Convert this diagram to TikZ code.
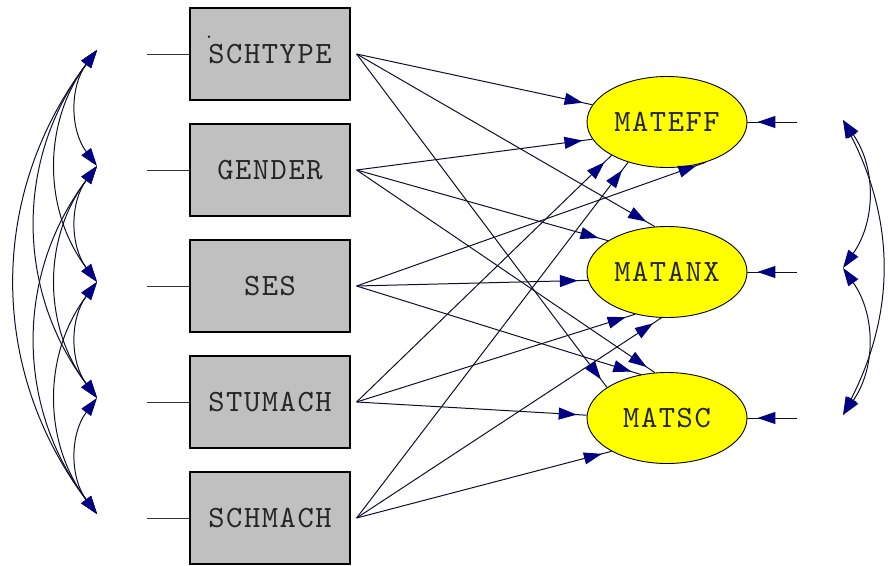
\documentclass[tikz,border=0pt]{standalone}
\usepackage{fontspec}
\usepackage{tikz}
\usetikzlibrary{arrows.meta, shapes.geometric, decorations.markings}

\definecolor{boxgray}{RGB}{192,192,192}
\definecolor{latyellow}{RGB}{255,255,0}
\definecolor{headblue}{RGB}{0,0,128}
\definecolor{linedark}{RGB}{15,15,45}

\newfontfamily\lismono[LetterSpace=5]{lmmono10-regular.otf}
\newcommand{\lisfont}{\lismono\fontsize{31}{34}\selectfont}

\tikzset{headtip/.tip={Triangle[length=18pt, width=12pt, color=headblue]}}

\begin{document}
\begin{tikzpicture}[
  x=1pt, y=-1pt,
  obs/.style={rectangle, draw=black, line width=1.2pt, fill=boxgray,
              minimum width=160pt, minimum height=92pt, font=\lisfont, text=black!85},
  lat/.style={ellipse, draw=black, line width=0.9pt, fill=latyellow, inner sep=0pt,
              minimum width=160pt, minimum height=91pt, font=\lisfont, text=black!85},
  effect/.style={draw=linedark, line width=1pt, postaction={decorate},
                 decoration={markings, mark=at position -10pt with {\arrow{headtip}}}},
  corr/.style={draw=linedark, line width=1pt, headtip-headtip},
  stub/.style={draw=black!80, line width=1pt}
]
\useasboundingbox (0,0) rectangle (888,565);

% Observed variables
\node[obs] (schtype) at (270,54) {SCHTYPE};
\node[obs] (gender)  at (270,170) {GENDER};
\node[obs] (ses)     at (270,286) {SES};
\node[obs] (stumach) at (270,402) {STUMACH};
\node[obs] (schmach) at (270,518) {SCHMACH};
\node[font=\lismono\fontsize{20}{20}\selectfont, text=black!85, inner sep=0pt, anchor=base] (dot) at (209,38) {.};

% Latent variables
\node[lat] (mateff) at (667,122) {MATEFF};
\node[lat] (matanx) at (667,272) {MATANX};
\node[lat] (matsc)  at (667,418) {MATSC};

% Stubs on the left
\coordinate (d1) at (147,54);
\coordinate (d2) at (147,170);
\coordinate (d3) at (147,286);
\coordinate (d4) at (147,402);
\coordinate (d5) at (147,518);
\draw[stub] (d1) -- (schtype.west);
\draw[stub] (d2) -- (gender.west);
\draw[stub] (d3) -- (ses.west);
\draw[stub] (d4) -- (stumach.west);
\draw[stub] (d5) -- (schmach.west);

% Correlations among observed variables
\coordinate (l1) at (97,50);
\coordinate (l2) at (97,166);
\coordinate (l3) at (97,282);
\coordinate (l4) at (97,398);
\coordinate (l5) at (97,514);
\draw[corr] (l1) to[bend right=37] (l2);
\draw[corr] (l1) to[bend right=37] (l3);
\draw[corr] (l1) to[bend right=37] (l4);
\draw[corr] (l1) to[bend right=37] (l5);
\draw[corr] (l2) to[bend right=37] (l3);
\draw[corr] (l2) to[bend right=37] (l4);
\draw[corr] (l2) to[bend right=37] (l5);
\draw[corr] (l3) to[bend right=37] (l4);
\draw[corr] (l3) to[bend right=37] (l5);
\draw[corr] (l4) to[bend right=37] (l5);

% Paths to MATEFF
\draw[effect] ([xshift=6pt]schtype.east) -- (mateff.167);
\draw[effect] ([xshift=6pt]gender.east)  -- (mateff.193);
\draw[effect] ([xshift=6pt]ses.east)     -- (mateff.314);
\draw[effect] ([xshift=6pt]stumach.east) -- (mateff.211);
\draw[effect] ([xshift=6pt]schmach.east) -- (mateff.226);

% Paths to MATANX
\draw[effect] ([xshift=6pt]schtype.east) -- (matanx.105);
\draw[effect] ([xshift=6pt]gender.east)  -- (matanx.152);
\draw[effect] ([xshift=6pt]ses.east)     -- (matanx.186);
\draw[effect] ([xshift=6pt]stumach.east) -- (matanx.233);
\draw[effect] ([xshift=6pt]schmach.east) -- (matanx.263);

% Paths to MATSC
\draw[effect] ([xshift=6pt]schtype.east) -- (matsc.153);
\draw[effect] ([xshift=6pt]gender.east)  -- (matsc.105);
\draw[effect] ([xshift=6pt]ses.east)     -- (matsc.121);
\draw[effect] ([xshift=6pt]stumach.east) -- (matsc.178);
\draw[effect] ([xshift=6pt]schmach.east) -- (matsc.211);

% Error terms
\coordinate (e1) at (797,122);
\coordinate (e2) at (797,272);
\coordinate (e3) at (797,418);
\draw[effect] (e1) -- (mateff.east);
\draw[effect] (e2) -- (matanx.east);
\draw[effect] (e3) -- (matsc.east);

% Error covariances
\coordinate (r1) at (843,120);
\coordinate (r2) at (843,268);
\coordinate (r3) at (843,415);
\draw[corr] (r1) to[bend left=35] (r2);
\draw[corr] (r2) to[bend left=35] (r3);
\draw[corr] (r1) to[bend left=27] (r3);

\end{tikzpicture}
\end{document}
